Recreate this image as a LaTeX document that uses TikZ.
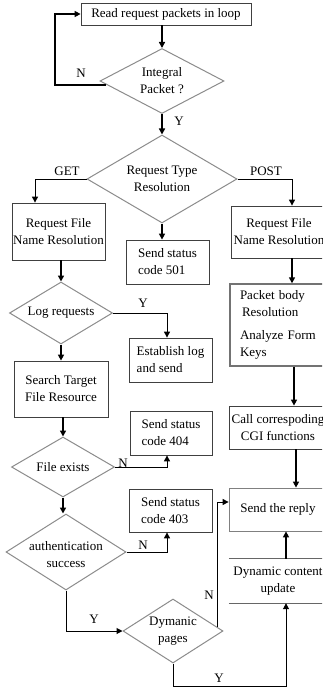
\documentclass[tikz,border=0pt]{standalone}
\usepackage{fontspec}
\setmainfont{Liberation Serif}
\usetikzlibrary{shapes.geometric,arrows.meta,calc}

\begin{document}
\begin{tikzpicture}[x=1pt,y=-1pt,
  font=\fontsize{13}{17}\selectfont,
  box/.style={draw=black!75, line width=0.8pt, inner sep=0pt, align=center},
  dia/.style={diamond, draw=black!45, line width=1pt, inner sep=0pt},
  dtext/.style={align=center, inner sep=0pt},
  tip/.style={-{Triangle[length=6pt,width=6pt]}},
  flow/.style={line width=1.8pt, tip},
  elbowarrow/.style={line width=1pt, tip},
  tag/.style={inner sep=0pt}
]
\fill[white] (0,0) rectangle (322,687);
\useasboundingbox (0,0) rectangle (322,687);
\clip (0,0) rectangle (322,687);

% ---- blocks ----
\node[box, minimum width=170pt, minimum height=22pt] (read) at (166,14) {Read request packets in loop};
\node[dia, minimum width=124pt, minimum height=65pt,
      label={[dtext]center:Integral\\Packet ?}] (int) at (162,81) {};
\node[dia, minimum width=150pt, minimum height=88pt,
      label={[dtext]center:Request Type\\Resolution}] (rt) at (162,179) {};

\node[box, minimum width=93pt, minimum height=57pt] (req1) at (58.5,231.5) {Request File\\Name Resolution};
\node[box, align=left, minimum width=83pt, minimum height=44pt] (s501) at (167.5,262) {Send status\\code 501};
\node[box, minimum width=96pt, minimum height=52pt] (req2) at (279,232) {Request File\\Name Resolution};

\node[dia, minimum width=103pt, minimum height=62pt,
      label={[dtext]center:Log requests}] (log) at (61,313) {};
\node[box, align=left, minimum width=83pt, minimum height=44pt] (est) at (170.5,360) {Establish log\\and send};
\node[box, draw=black!55, line width=1.4pt, align=left, text width=77pt,
      minimum width=97pt, minimum height=82pt] (pb) at (278.5,325)
      {Packet body\\\hspace*{2pt}Resolution\\[6pt]Analyze Form\\Keys};

\node[box, minimum width=94pt, minimum height=56pt] (search) at (61,389) {Search Target\\File Resource};
\node[box, minimum width=98pt, minimum height=43pt] (call) at (278,427.5) {Call correspoding\\CGI functions};
\node[box, align=left, minimum width=82pt, minimum height=44pt] (s404) at (171,433) {Send status\\code 404};

\node[dia, minimum width=103pt, minimum height=60pt,
      label={[dtext]center:File exists}] (fe) at (63,467) {};
\node[box, align=left, minimum width=83pt, minimum height=43pt] (s403) at (170.5,510.5) {Send status\\code 403};
\node[box, draw=black!50, minimum width=98pt, minimum height=43pt] (reply) at (278,509.5) {Send the reply};

\node[dia, minimum width=120pt, minimum height=76pt,
      label={[dtext,yshift=-3pt]center:authentication\\success}] (auth) at (66,552) {};
\node[dtext, minimum width=98pt, minimum height=44pt] (dcu) at (278,581) {Dynamic content\\update};
\draw[black!60, line width=0.9pt] (dcu.north west) -- (dcu.north east)
                                  (dcu.south west) -- (dcu.south east);
\node[dia, minimum width=100pt, minimum height=64pt,
      label={[dtext]center:Dymanic\\pages}] (dyn) at (173,631) {};

% ---- helper coordinates for connector columns ----
\coordinate (loopstart) at ($(int.west)!0.11!(int.south)$);
\coordinate (loopcorner) at (55,14);
\coordinate (getx) at (35,0);
\coordinate (postx) at (292,0);
\coordinate (logyx) at (167,0);
\coordinate (nx) at (167,0);
\coordinate (cgix) at (294,0);
\coordinate (replyx) at (296,0);
\coordinate (dcux) at (286,0);
\coordinate (ybottom) at (0,686);
\coordinate (dynN) at ($(dyn.north)!0.88!(dyn.east)$);
\coordinate (replyin) at ($(reply.west)+(0,-7.5)$);

% ---- connectors ----
\draw[flow] (read.south -| int.north) -- (int.north);
\draw[flow] (loopstart) -| (loopcorner) -- (read.west);
\draw[flow] (int.south) -- (rt.north);
\draw[elbowarrow] (rt.west) -| (req1.north -| getx);
\draw[elbowarrow] (rt.east) -| (req2.north -| postx);
\draw[flow] (rt.south) -- (rt.south |- s501.north);
\draw[flow] (req1.south -| log.north) -- (log.north);
\draw[elbowarrow] (log.east) -| (est.north -| logyx);
\draw[flow] (req2.south -| postx) -- (pb.north -| postx);
\draw[flow] (pb.south -| cgix) -- (call.north -| cgix);
\draw[flow] (log.south) -- (log.south |- search.north);
\draw[flow] (search.south -| fe.north) -- (fe.north);
\draw[flow] (call.south -| replyx) -- (reply.north -| replyx);
\draw[elbowarrow] (fe.east) -| (s404.south -| nx);
\draw[flow] (fe.south) -- (fe.south |- auth.north);
\draw[elbowarrow] (auth.east) -| (s403.south -| nx);
\draw[elbowarrow] (auth.south) |- (dyn.west);
\draw[elbowarrow] (dynN) |- (replyin);
\draw[elbowarrow] (dyn.south) -- (dyn.south |- ybottom) -| (dcu.south -| dcux);
\draw[flow] (dcu.north -| dcux) -- (reply.south -| dcux);

% ---- branch labels ----
\node[tag] (tN1) at (81,73) {N};
\node[tag] (tY1) at (179,121) {Y};
\node[tag] (tGET) at (67,171) {GET};
\node[tag] (tPOST) at (266,171) {POST};
\node[tag] (tY2) at (143,303) {Y};
\node[tag] (tN2) at (123,463) {N};
\node[tag] (tN3) at (143,545) {N};
\node[tag] (tY3) at (94,619) {Y};
\node[tag] (tN4) at (209,595) {N};
\node[tag] (tY4) at (219,678) {Y};
\end{tikzpicture}
\end{document}
